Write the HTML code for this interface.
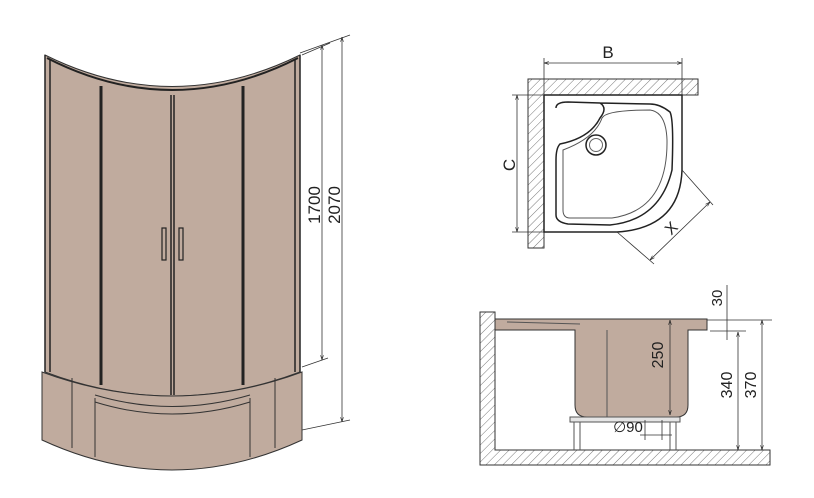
<!DOCTYPE html><html><head><style>body{margin:0;background:#fff}svg{display:block}text{font-family:"Liberation Sans",Arial,sans-serif;fill:#222}</style></head><body>
<svg width="814" height="498" viewBox="0 0 814 498" xmlns="http://www.w3.org/2000/svg">
<defs>
<pattern id="h" width="6" height="6" patternUnits="userSpaceOnUse" patternTransform="rotate(45)"><line x1="0" y1="0" x2="0" y2="6" stroke="#555" stroke-width="0.8"/></pattern>
<marker id="a" viewBox="0 0 10 10" refX="10" refY="5" markerWidth="6" markerHeight="6" orient="auto-start-reverse"><path d="M0,2 L10,5 L0,8" fill="none" stroke="#222" stroke-width="1.2"/></marker>
</defs>
<g stroke="#333" stroke-width="1" fill="#c0ab9e">
<path d="M45,55 Q172,118 300,55 L300,372 Q172,420 45,372 Z"/>
<path d="M42,372 Q172,420 302,372 L302,440 Q172,500 42,440 Z"/>
<path d="M95,395 Q172,418 250,395 M95,402 Q172,426 250,402" fill="none"/>
<path d="M72,378 L72,448 M95,398 L95,457 M250,398 L250,457 M275,378 L275,448" fill="none"/>
</g>
<g stroke="#222" fill="none">
<path d="M45,55 L45,372 M50,60 L50,372 M300,55 L300,372 M295,60 L295,372" stroke-width="1.5"/>
<path d="M101,86 L101,385 M243,86 L243,385" stroke-width="3"/>
<path d="M171,95 L171,395 M174,95 L174,395" stroke-width="1.5"/>
<path d="M47,58 Q172,122 298,58" stroke-width="2"/>
<rect x="162" y="228" width="4" height="32" stroke-width="1.2"/><rect x="179" y="228" width="4" height="32" stroke-width="1.2"/>
</g>
<g stroke="#333" stroke-width="0.8" fill="none">
<path d="M322,45 L322,360" marker-start="url(#a)" marker-end="url(#a)"/>
<path d="M342,37 L342,422" marker-start="url(#a)" marker-end="url(#a)"/>
<path d="M302,55 L330,43 M302,367 L328,358 M302,430 L350,420 M300,53 L350,35"/>
</g>
<text transform="translate(320,205) rotate(-90)" text-anchor="middle" font-size="17">1700</text>
<text transform="translate(340,205) rotate(-90)" text-anchor="middle" font-size="17">2070</text>
<path d="M528,79 L698,79 L698,95 L544,95 L544,248 L528,248 Z" fill="url(#h)" stroke="#333"/>
<path d="M544,95 L682,95 L682,170 Q680,228 617,232 L544,232 Z" fill="#fff" stroke="#222" stroke-width="1.5"/>
<path d="M556,108 Q556,102 568,102 L600,103 Q608,108 600,118 Q590,138 560,144 Q556,148 556,160 L556,215 Q556,222 568,224 L610,225 Q660,220 672,170 Q674,120 670,112 Q660,104 650,104 L600,103" fill="none" stroke="#222" stroke-width="1.5"/>
<path d="M563,150 Q595,138 602,118 Q606,110 650,110 Q666,112 667,140 Q668,210 612,218 L570,218 Q563,218 563,210 Z" fill="none" stroke="#555" stroke-width="1"/>
<circle cx="596" cy="145" r="10" fill="none" stroke="#222" stroke-width="1.5"/><circle cx="596" cy="145" r="6.5" fill="none" stroke="#666"/>
<g stroke="#333" stroke-width="0.8" fill="none">
<path d="M544,63 L682,63" marker-start="url(#a)" marker-end="url(#a)"/>
<path d="M544,58 L544,95 M682,58 L682,95"/>
<path d="M517,95 L517,232" marker-start="url(#a)" marker-end="url(#a)"/>
<path d="M512,95 L544,95 M512,232 L544,232"/>
<path d="M710,202 L650,260" marker-start="url(#a)" marker-end="url(#a)"/>
<path d="M682,170 L713,205 M617,232 L654,264"/>
</g>
<text x="608" y="58" text-anchor="middle" font-size="17">B</text>
<text transform="translate(515,165) rotate(-90)" text-anchor="middle" font-size="17">C</text>
<text transform="translate(675,232) rotate(-45)" text-anchor="middle" font-size="16">X</text>
<path d="M480,312 L495,312 L495,450 L770,450 L770,465 L480,465 Z" fill="url(#h)" stroke="#333"/>
<path d="M495,319 L707,319 L707,330 L688,330 L688,405 Q688,417 676,417 L587,417 Q575,417 575,405 L575,330 L495,330 Z" fill="#c0ab9e" stroke="#333"/>
<path d="M507,322 L580,324 M607,330 L607,417" stroke="#555" fill="none"/>
<rect x="570" y="417" width="110" height="5" fill="#e5e5e5" stroke="#555"/>
<path d="M574,422 L574,450 M580,422 L580,450 M670,422 L670,450 M676,422 L676,450" stroke="#555"/>
<g stroke="#333" stroke-width="0.8" fill="none">
<path d="M670,320 L670,415" marker-start="url(#a)" marker-end="url(#a)"/>
<path d="M738,332 L738,450" marker-start="url(#a)" marker-end="url(#a)"/>
<path d="M762,320 L762,450" marker-start="url(#a)" marker-end="url(#a)"/>
<path d="M707,320 L772,320 M710,331 L746,331 M727,285 L727,340"/>
<path d="M640,435 L672,435 M645,420 L645,440 M662,420 L662,440"/>
</g>
<text transform="translate(663,355) rotate(-90)" text-anchor="middle" font-size="16">250</text>
<text transform="translate(732,385) rotate(-90)" text-anchor="middle" font-size="16">340</text>
<text transform="translate(756,385) rotate(-90)" text-anchor="middle" font-size="16">370</text>
<text transform="translate(722,298) rotate(-90)" text-anchor="middle" font-size="15">30</text>
<text x="628" y="432" text-anchor="middle" font-size="15">∅90</text>
</svg></body></html>
